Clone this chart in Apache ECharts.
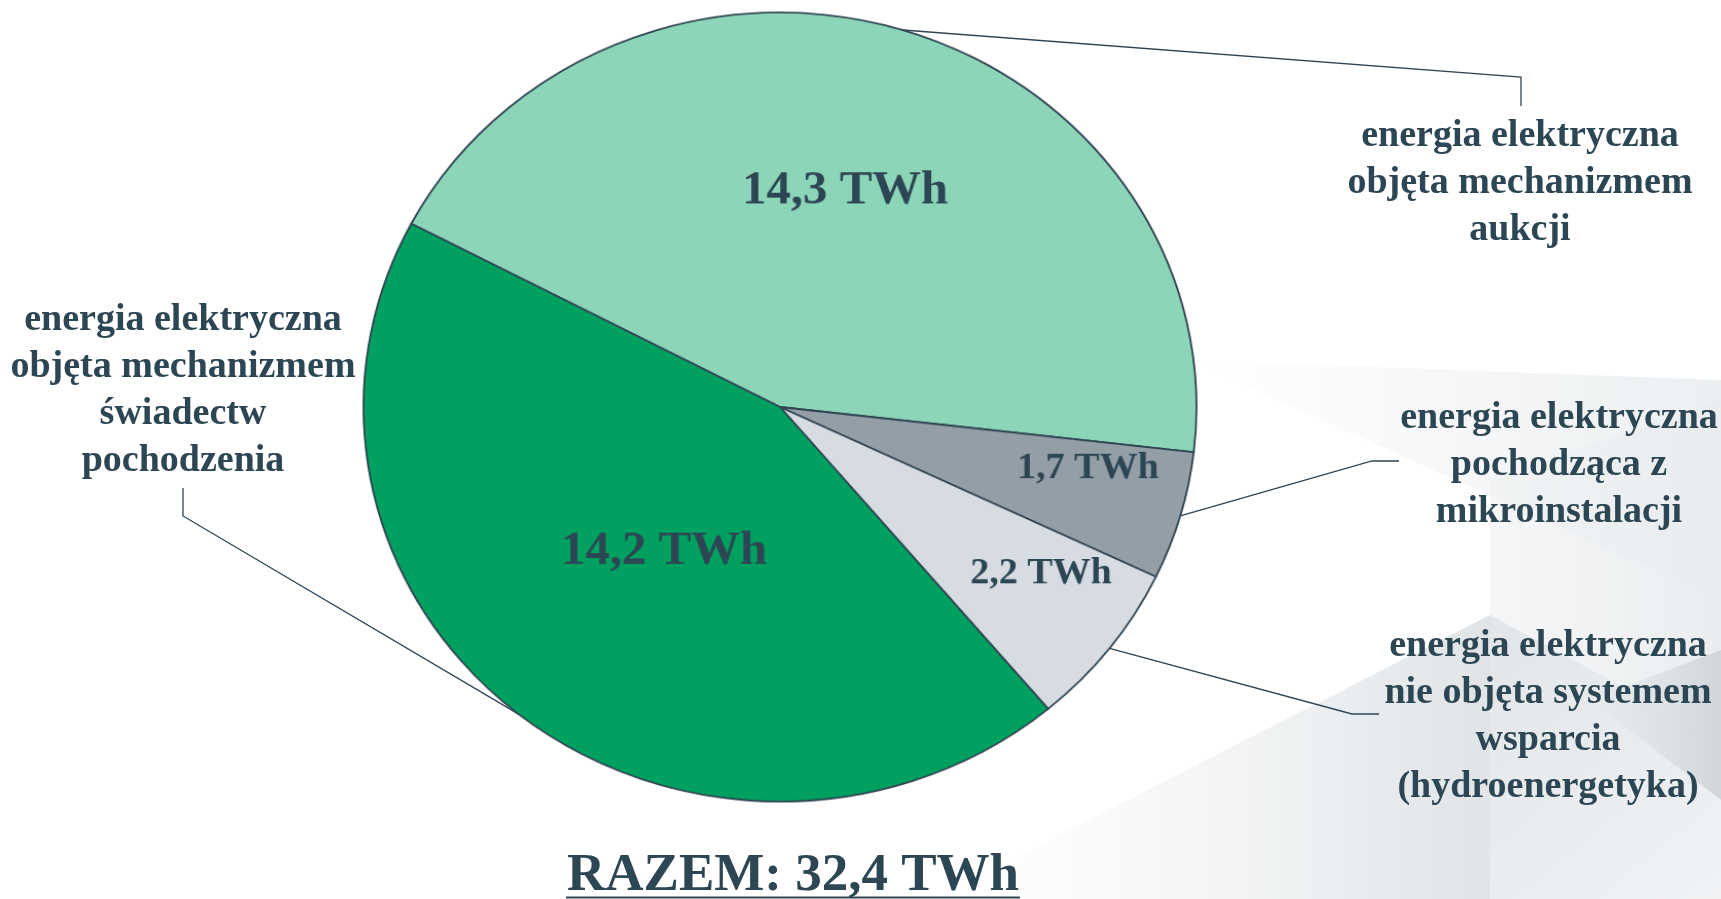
<!DOCTYPE html>
<html>
<head>
<meta charset="utf-8">
<script src="https://cdn.jsdelivr.net/npm/echarts@6.0.0/dist/echarts.min.js"></script>
<style>
  html, body { margin: 0; padding: 0; background: #fff; }
  .layer { position: absolute; left: 0; top: 0; width: 1721px; height: 899px; }
  /* koło na slajdzie jest lekko spłaszczone */
  #pie { transform-origin: 780px 407px; transform: scale(1.0284, 0.9741); }
</style>
</head>
<body>
<div id="base" class="layer"></div>
<div id="pie" class="layer"></div>
<script>
// dane
const categories = [
  'energia elektryczna\nobjęta mechanizmem\naukcji',
  'energia elektryczna\npochodząca z\nmikroinstalacji',
  'energia elektryczna\nnie objęta systemem\nwsparcia\n(hydroenergetyka)',
  'energia elektryczna\nobjęta mechanizmem\nświadectw\npochodzenia'
];
const values = [14.3, 1.7, 2.2, 14.2];
const colors = ['#8dd5b8', '#939ea6', '#d7dce3', '#00a060'];
const totalLabel = 'RAZEM: 32,4 TWh';

const textColor = '#2d4654';
const edgeColor = '#2f4452';
const font = 'Liberation Serif';

// rozmieszczenie (px)
const cx = 780, cy = 407, sx = 1.0284, sy = 0.9741;
const R = 405, rGuide = 394, start = 152.3;
const innerPos = [[845, 191], [1088, 469], [1041, 574], [664, 552]];
const innerSize = [47.5, 37, 37, 47.5];
const outerPos = [[1520, 183], [1559, 465], [1548, 717], [183, 391]];
const outerLine = [
  [[1521, 77], [1521, 106]],
  [[1372, 461], [1399, 461]],
  [[1352, 714], [1379, 714]],
  [[183, 516], [183, 488]]
];

const fmt = v => v.toFixed(1).replace('.', ',') + ' TWh';
const pieData = values.map((v, i) => ({ name: categories[i], value: v }));

// punkt na brzegu spłaszczonego koła
const onEdge = pt => [
  cx + (pt[0] - cx) / rGuide * R * sx,
  cy + (pt[1] - cy) / rGuide * R * sy
];

const grad = (a, b, x2, y2) => ({
  type: 'linear', x: 0, y: 0, x2: x2, y2: y2,
  colorStops: [{ offset: 0, color: a }, { offset: 1, color: b }]
});

// warstwa dolna: tło, podpisy zewnętrzne, suma
const base = echarts.init(document.getElementById('base'));
base.setOption({
  backgroundColor: '#fff',
  animation: false,
  graphic: [
    { type: 'polygon', z: -10, shape: { points: [[1190, 360], [1721, 380], [1721, 600]] },
      style: { fill: grad('rgba(236,239,241,0)', 'rgba(236,239,241,1)', 1, 0) } },
    { type: 'polygon', z: -10, shape: { points: [[1490, 480], [1721, 400], [1721, 899], [1490, 899]] },
      style: { fill: grad('rgba(238,240,242,0.6)', 'rgba(234,237,239,1)', 1, 0) } },
    { type: 'polygon', z: -9, shape: { points: [[1490, 615], [1721, 740], [1721, 899], [1490, 899]] },
      style: { fill: grad('rgba(226,230,233,1)', 'rgba(240,242,244,1)', 1, 1) } },
    { type: 'polygon', z: -9, shape: { points: [[1030, 850], [1490, 615], [1490, 899], [960, 899]] },
      style: { fill: grad('rgba(235,238,240,0)', 'rgba(224,228,231,1)', 1, 0) } },
    { type: 'polygon', z: -8, shape: { points: [[1590, 700], [1721, 650], [1721, 800]] },
      style: { fill: grad('rgba(214,219,223,0)', 'rgba(208,214,218,1)', 1, 0) } },
    { type: 'text', z: 10,
      style: { text: totalLabel, x: 793, y: 876, align: 'center', verticalAlign: 'middle',
        fill: textColor, font: 'bold 53px "' + font + '"' } },
    { type: 'line', z: 10, shape: { x1: 566, y1: 897.5, x2: 1020, y2: 897.5 },
      style: { stroke: textColor, lineWidth: 2 } }
  ],
  series: [{
    type: 'pie',
    center: [cx, cy],
    radius: rGuide,
    startAngle: start,
    avoidLabelOverlap: false,
    silent: true,
    itemStyle: { color: 'rgba(0,0,0,0)', borderWidth: 0 },
    label: {
      show: true,
      position: 'outside',
      formatter: p => p.name,
      color: textColor,
      fontFamily: font,
      fontWeight: 'bold',
      fontSize: 38,
      lineHeight: 47,
      align: 'center'
    },
    labelLine: {
      show: true,
      length: 20,
      length2: 20,
      lineStyle: { color: edgeColor, width: 1.3 }
    },
    labelLayout: p => ({
      x: outerPos[p.dataIndex][0],
      y: outerPos[p.dataIndex][1],
      align: 'center',
      verticalAlign: 'middle',
      labelLinePoints: [onEdge(p.labelLinePoints[0])].concat(outerLine[p.dataIndex])
    }),
    data: pieData
  }]
});

// warstwa górna: wykres kołowy z wartościami
const pie = echarts.init(document.getElementById('pie'));
pie.setOption({
  backgroundColor: 'transparent',
  animation: false,
  color: colors,
  series: [{
    type: 'pie',
    center: [cx, cy],
    radius: R,
    startAngle: start,
    avoidLabelOverlap: false,
    silent: true,
    itemStyle: { borderColor: edgeColor, borderWidth: 1.8 },
    label: {
      show: true,
      position: 'inside',
      formatter: p => fmt(p.value),
      color: textColor,
      fontFamily: font,
      fontWeight: 'bold'
    },
    labelLine: { show: false },
    labelLayout: p => ({
      x: cx + (innerPos[p.dataIndex][0] - cx) / sx,
      y: cy + (innerPos[p.dataIndex][1] - cy) / sy,
      align: 'center',
      verticalAlign: 'middle',
      fontSize: innerSize[p.dataIndex]
    }),
    data: pieData
  }]
});
</script>
</body>
</html>
